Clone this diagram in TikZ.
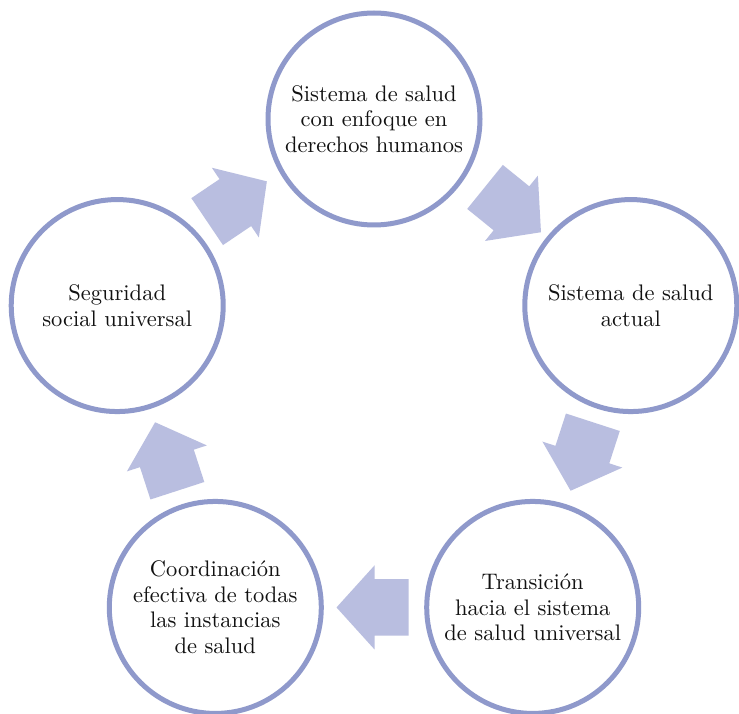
\documentclass[tikz,border=0pt]{standalone}
\usepackage{fontspec}
\setmainfont{lmroman10-regular.otf}
\usetikzlibrary{calc}
\definecolor{ringcol}{HTML}{8F99CB}
\definecolor{arrowcol}{HTML}{B9BEE0}
\definecolor{textcol}{HTML}{111111}
\tikzset{
  stage/.style={circle, draw=ringcol, line width=5pt, fill=white,
    minimum size=212pt, inner sep=0pt, align=center, text=textcol,
    font=\fontsize{22.5}{25.5}\selectfont},
  pics/blockarrow/.style={code={
    \fill[arrowcol] (-36,-28.3) -- (-2,-28.3) -- (-2,-42) -- (36,0)
      -- (-2,42) -- (-2,28.3) -- (-36,28.3) -- cycle;}}
}
\begin{document}
\begin{tikzpicture}[x=1pt,y=1pt]
\useasboundingbox (0,0) rectangle (739,713);
\fill[white] (0,0) rectangle (739,713);
% centre of the cycle
\coordinate (o) at (374,324);
% the five stages, clockwise from the top
\node[stage] (t)  at ($(o)+(90:270)$)   {Sistema de salud\\con enfoque en\\derechos humanos};
\node[stage] (r)  at ($(o)+(18:270)$)   {Sistema de salud\\actual};
\node[stage] (br) at ($(o)+(-54:270)$)  {Transición\\hacia el sistema\\de salud universal};
\node[stage] (bl) at ($(o)+(-126:270)$) {Coordinación\\efectiva de todas\\las instancias\\de salud};
\node[stage] (l)  at ($(o)+(162:270)$)  {Seguridad\\social universal};
% block arrows between consecutive stages
\pic[rotate=34]   at ($($(l)!0.5!(t)$)+(-8.6,10.8)$)  {blockarrow};
\pic[rotate=-39]  at ($($(t)!0.5!(r)$)+(10.6,2.7)$)   {blockarrow};
\pic[rotate=-108] at ($(r)!0.5!(br)$)  {blockarrow};
\pic[rotate=180]  at ($(br)!0.5!(bl)+(-1.5,0)$) {blockarrow};
\pic[rotate=108]  at ($(bl)!0.5!(l)$)  {blockarrow};
\end{tikzpicture}
\end{document}
